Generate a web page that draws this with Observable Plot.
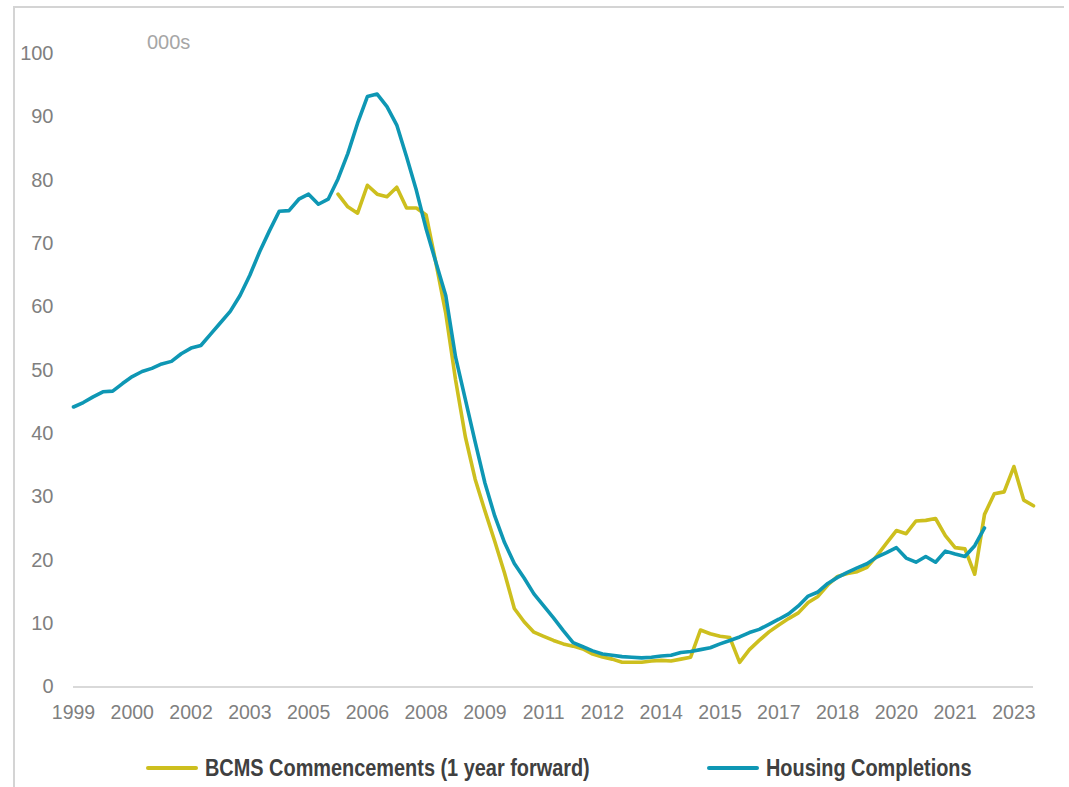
<!DOCTYPE html>
<html><head><meta charset="utf-8">
<script src="https://cdn.jsdelivr.net/npm/d3@7"></script>
<script src="https://cdn.jsdelivr.net/npm/@observablehq/plot@0.6"></script>
<style>
body{margin:0;background:#fff;}
#wrap{position:relative;width:1069px;height:787px;overflow:hidden;font-family:"Liberation Sans",Arial,sans-serif;background:#fff;}
#frame{position:absolute;left:13px;top:6px;width:1049px;height:800px;border-left:2px solid #d4d4d4;border-top:2px solid #d4d4d4;}
#unit{position:absolute;left:147px;top:30px;font-size:20px;line-height:24px;color:#a6a6a6;}
#chart{position:absolute;left:0;top:0;}
#legend{position:absolute;top:753px;left:0;width:1069px;height:30px;}
.item{position:absolute;top:0;display:flex;align-items:center;height:30px;font-family:"Liberation Sans",Arial,sans-serif;font-weight:bold;font-size:23px;color:#404040;white-space:nowrap;}
.item span{display:inline-block;transform:scaleX(0.865);transform-origin:0 50%;}
.swatch{width:52px;height:4px;border-radius:2px;margin-right:7px;}
</style></head>
<body>
<div id="wrap">
  <div id="frame"></div>
  <div id="chart"></div>
  <div id="unit">000s</div>
  <div id="legend"></div>
</div>
<script>
// Quarterly categories 1999Q1 .. 2023Q3
const startYear = 1999;
const nQuarters = 99;
const quarters = [];
for (let i = 0; i < nQuarters; i++) quarters.push(`${startYear + Math.floor(i/4)}Q${(i%4)+1}`);

// Tick labels (every 6th quarter)
const xTickLabels = ["1999","2000","2002","2003","2005","2006","2008","2009","2011","2012","2014","2015","2017","2018","2020","2021","2023"];
const xTickQuarters = ["1999Q1","2000Q3","2002Q1","2003Q3","2005Q1","2006Q3","2008Q1","2009Q3","2011Q1","2012Q3","2014Q1","2015Q3","2017Q1","2018Q3","2020Q1","2021Q3","2023Q1"];
const yTicks = [0,10,20,30,40,50,60,70,80,90,100];

// Housing Completions (000s), from 1999Q1
const completionsStart = "1999Q1";
const completions = [
 44.2,44.9,45.8,46.6,46.7,47.9,49.0,49.8,50.3,51.0,
 51.4,52.6,53.5,53.9,55.7,57.5,59.3,61.8,65.0,68.7,
 72.0,75.1,75.2,77.0,77.8,76.2,77.0,80.2,84.2,89.0,
 93.2,93.6,91.6,88.7,83.7,78.4,72.3,67.0,61.8,52.1,
 45.4,38.7,32.2,27.0,22.8,19.5,17.2,14.7,12.8,10.9,
 8.9,7.0,6.35,5.7,5.2,5.0,4.8,4.7,4.6,4.7,
 4.9,5.0,5.45,5.6,5.9,6.2,6.8,7.35,7.9,8.6,
 9.1,9.9,10.7,11.55,12.8,14.35,15.0,16.35,17.3,18.1,
 18.8,19.45,20.5,21.2,22.0,20.35,19.7,20.6,19.7,21.45,
 21.0,20.6,22.3,25.1
];

// BCMS Commencements (1 year forward), from 2005Q4
const commencementsStart = "2005Q4";
const commencements = [
 77.8,75.8,74.8,79.2,77.8,77.4,78.9,75.6,75.6,74.5,
 66.9,59.0,48.5,39.5,32.8,27.8,23.0,18.0,12.4,10.3,
 8.65,8.0,7.35,6.8,6.45,6.0,5.2,4.75,4.4,3.9,
 3.9,3.9,4.1,4.2,4.1,4.4,4.7,9.0,8.4,8.0,
 7.8,3.9,5.9,7.35,8.7,9.8,10.8,11.7,13.35,14.3,
 16.1,17.45,17.9,18.2,18.9,20.7,22.7,24.7,24.2,26.2,
 26.3,26.6,23.9,22.0,21.8,17.8,27.25,30.5,30.8,34.8,
 29.5,28.6
];

const seriesNames = ["BCMS Commencements (1 year forward)", "Housing Completions"];
const colors = ["#cdbf1e", "#0e97b4"];

function rows(start, values){
  const s = quarters.indexOf(start);
  return values.map((v,i) => ({q: quarters[s+i], v}));
}
const compRows = rows(completionsStart, completions);
const commRows = rows(commencementsStart, commencements);
const labelOf = new Map(xTickQuarters.map((q,i) => [q, xTickLabels[i]]));

const chart = Plot.plot({
  width: 1069,
  height: 730,
  marginTop: 53,
  marginBottom: 43.5,
  marginLeft: 73,
  marginRight: 36,
  style: {fontFamily: "'Liberation Sans', Arial, sans-serif", background: "transparent", color: "#7f7f7f", overflow: "visible"},
  x: {type: "point", domain: quarters, padding: 0},
  y: {domain: [0, 100]},
  marks: [
    Plot.axisY(yTicks, {tickSize: 0, tickPadding: 20, fontSize: 20, fill: "#7f7f7f", label: null}),
    Plot.axisX(xTickQuarters, {tickSize: 0, tickPadding: 18.5, fontSize: 19.5, fill: "#7f7f7f", label: null, tickFormat: d => labelOf.get(d)}),
    Plot.ruleY([0], {stroke: "#d9d9d9", strokeWidth: 2}),
    Plot.lineY(commRows, {x: "q", y: "v", stroke: colors[0], strokeWidth: 3.6, strokeLinejoin: "round"}),
    Plot.lineY(compRows, {x: "q", y: "v", stroke: colors[1], strokeWidth: 3.6, strokeLinejoin: "round"})
  ]
});
document.getElementById("chart").appendChild(chart);

// Legend
const legend = document.getElementById("legend");
const legendLeft = [146, 707];
seriesNames.forEach((name, i) => {
  const item = document.createElement("div");
  item.className = "item";
  item.style.left = legendLeft[i] + "px";
  const sw = document.createElement("div");
  sw.className = "swatch";
  sw.style.background = colors[i];
  const tx = document.createElement("span");
  tx.textContent = name;
  item.appendChild(sw); item.appendChild(tx);
  legend.appendChild(item);
});
</script>
</body></html>
